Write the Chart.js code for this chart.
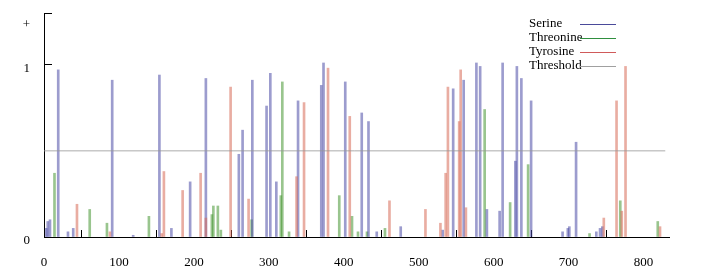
<!DOCTYPE html>
<html>
<head>
<meta charset="utf-8">
<script src="https://cdn.jsdelivr.net/npm/chart.js@4"></script>
<style>
  html, body { margin: 0; padding: 0; background: #fff; }
</style>
</head>
<body>
<canvas id="chart" width="713" height="273"></canvas>
<script>
// ---- DATA (residue position -> score) ----
const serinePos = [3, 5, 8, 19, 32, 39, 91, 119, 154, 170, 195, 216, 260, 265, 278, 297, 302, 310, 339, 370, 373, 402, 424, 433, 444, 476, 532, 546, 560, 577, 582, 591, 608, 612, 629, 631, 637, 650, 692, 699, 701, 710, 737, 742, 745];
const serineVal = [0.05, 0.09, 0.10, 0.97, 0.03, 0.05, 0.91, 0.01, 0.94, 0.05, 0.32, 0.92, 0.48, 0.62, 0.91, 0.76, 0.95, 0.32, 0.79, 0.88, 1.01, 0.90, 0.72, 0.67, 0.03, 0.06, 0.04, 0.86, 0.91, 1.01, 0.99, 0.16, 0.15, 1.01, 0.44, 0.99, 0.92, 0.79, 0.03, 0.05, 0.06, 0.55, 0.03, 0.05, 0.06];

const threoninePos = [14, 61, 84, 140, 224, 226, 232, 236, 277, 316, 318, 327, 394, 411, 419, 431, 455, 588, 622, 646, 728, 769, 819];
const threonineVal = [0.37, 0.16, 0.08, 0.12, 0.13, 0.18, 0.18, 0.04, 0.10, 0.24, 0.90, 0.03, 0.24, 0.12, 0.03, 0.03, 0.05, 0.74, 0.20, 0.42, 0.02, 0.21, 0.09];

const tyrosinePos = [44, 88, 157, 160, 185, 209, 216, 249, 273, 337, 347, 379, 408, 461, 509, 529, 536, 539, 554, 556, 563, 747, 764, 771, 776, 822];
const tyrosineVal = [0.19, 0.03, 0.02, 0.38, 0.27, 0.37, 0.11, 0.87, 0.22, 0.35, 0.78, 0.98, 0.70, 0.21, 0.16, 0.08, 0.37, 0.87, 0.67, 0.97, 0.17, 0.11, 0.79, 0.15, 0.99, 0.06];

const thresholdValue = 0.5;
const thresholdRange = [0, 829];

const xTickValues = [0, 100, 200, 300, 400, 500, 600, 700, 800];
const yTickValues = [0, 1, 1.3];
const yTickLabels = ['0', '1', ['', '+']]; // top label sits a bit under its tick

const toPoints = (xs, ys) => xs.map((x, i) => ({ x: x, y: ys[i] }));

// legend: text on the left, sample line on the right
const lineLegend = {
  id: 'lineLegend',
  afterDraw(chart) {
    const ctx = chart.ctx;
    ctx.save();
    ctx.font = '13px "Liberation Serif"';
    ctx.textBaseline = 'middle';
    chart.data.datasets.forEach((ds, i) => {
      const y = 24 + i * 14;
      ctx.fillStyle = '#000';
      ctx.fillText(ds.label, 529, y);
      ctx.strokeStyle = ds.legendColor;
      ctx.lineWidth = 1;
      ctx.beginPath();
      ctx.moveTo(580, y + 0.5);
      ctx.lineTo(616, y + 0.5);
      ctx.stroke();
    });
    ctx.restore();
  }
};

const font = { family: '"Liberation Serif", serif', size: 13 };

new Chart(document.getElementById('chart'), {
  type: 'bar',
  data: {
    datasets: [
      { label: 'Serine', data: toPoints(serinePos, serineVal), backgroundColor: 'rgba(75,75,165,0.55)', legendColor: '#4a4a9a', barThickness: 2, grouped: false, order: 2 },
      { label: 'Threonine', data: toPoints(threoninePos, threonineVal), backgroundColor: 'rgba(70,150,50,0.55)', legendColor: '#2f8f3f', barThickness: 2, grouped: false, order: 3 },
      { label: 'Tyrosine', data: toPoints(tyrosinePos, tyrosineVal), backgroundColor: 'rgba(215,105,85,0.55)', legendColor: '#d05a5a', barThickness: 2, grouped: false, order: 1 },
      {
        type: 'line', label: 'Threshold',
        data: thresholdRange.map(x => ({ x: x, y: thresholdValue })),
        borderColor: 'rgba(150,150,150,0.8)', legendColor: '#a0a0a0',
        borderWidth: 1, pointRadius: 0, order: 0
      }
    ]
  },
  options: {
    responsive: false,
    animation: false,
    layout: { padding: { top: 13, right: 44, left: 0, bottom: 0 } },
    plugins: { legend: { display: false }, tooltip: { enabled: false } },
    scales: {
      x: {
        type: 'linear', min: 0, max: 834, offset: false,
        afterBuildTicks: s => { s.ticks = xTickValues.map(v => ({ value: v })); },
        afterFit: s => { s.height = 36; s.paddingLeft = 0; s.paddingRight = 0; },
        grid: { drawOnChartArea: false, tickLength: -7, color: '#000' },
        border: { color: '#000', width: 1 },
        ticks: { color: '#000', font: font, padding: 25, autoSkip: false, maxRotation: 0 }
      },
      y: {
        min: 0, max: 1.3,
        afterBuildTicks: s => { s.ticks = yTickValues.map(v => ({ value: v })); },
        afterFit: s => { s.width = 44; s.paddingTop = 0; s.paddingBottom = 0; },
        grid: { drawOnChartArea: false, tickLength: -8, color: '#000' },
        border: { color: '#000', width: 1 },
        ticks: { color: '#000', font: font, padding: 22, labelOffset: 4, callback: (v, i) => yTickLabels[i] }
      }
    }
  },
  plugins: [lineLegend]
});
</script>
</body>
</html>
